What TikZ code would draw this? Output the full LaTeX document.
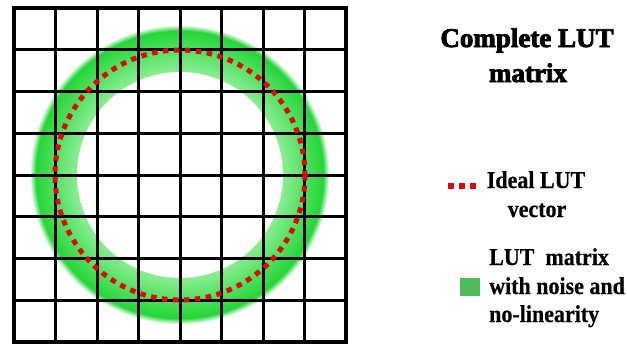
\documentclass[tikz,border=0pt]{standalone}
\usepackage{fontspec}
\setmainfont{Liberation Serif}
\newcommand{\vstr}[1]{\scalebox{1}[1.1]{#1}}
\begin{document}
\begin{tikzpicture}[x=1pt,y=-1pt,
  gridline/.style={line width=3pt,black},
  border/.style={line width=4pt,black},
  lbl/.style={inner sep=0pt,anchor=base,font=\fontsize{22}{26}\selectfont\bfseries\addfontfeature{FakeBold=0.6}},
  lblw/.style={inner sep=0pt,anchor=base west,font=\fontsize{22}{26}\selectfont\bfseries\addfontfeature{FakeBold=0.6}},
  ttl/.style={inner sep=0pt,anchor=base,font=\fontsize{27}{30}\selectfont\bfseries\addfontfeature{FakeBold=3}},
  idealdots/.style={line width=5pt,draw=redd,dash pattern=on 5.5pt off 5.5pt}
]
\definecolor{darkg}{RGB}{38,214,58}
\definecolor{lightg}{RGB}{140,238,148}
\definecolor{redd}{RGB}{226,8,8}
\definecolor{legg}{RGB}{76,187,90}
\useasboundingbox (0,0) rectangle (627,343);
\fill[white] (0,0) rectangle (627,343);
\coordinate (c) at (180,175);
% ring with gradient
\foreach \r in {150,149.5,...,144}{
  \pgfmathsetmacro\p{100-(\r-144)/6*100}
  \fill[darkg!\p!white] (c) circle (\r);
}
\foreach \r in {143.5,143,...,103}{
  \pgfmathsetmacro\p{(\r-103)/40.5*100}
  \fill[darkg!\p!lightg] (c) circle (\r);
}
\fill[white] (c) circle (103);
% grid
\foreach \i in {1,...,7}{
  \pgfmathsetmacro\xx{14+41.5*\i}
  \pgfmathsetmacro\yy{8+41.75*\i}
  \draw[gridline] (\xx,8) -- (\xx,342);
  \draw[gridline] (14,\yy) -- (346,\yy);
}
\draw[border] (14,8) rectangle (346,342);
% ideal circle
\draw[idealdots] (c) circle (125);
% title
\node[ttl] (t1) at (527,47) {Complete LUT};
\node[ttl] (t2) at (528,82) {matrix};
% legend 1
\coordinate (d1) at (448,186);
\coordinate (d2) at (477,186);
\draw[line width=6pt,draw=redd,dash pattern=on 6pt off 5pt] (d1) -- (d2);
\node[lbl] (l1) at (536,188) {\vstr{Ideal LUT}};
\node[lbl] (l2) at (537,217) {\vstr{vector}};
% legend 2
\fill[legg] (460,278) rectangle (480,296);
\node[lblw] (m1) at (489,265) {\vstr{LUT\ \ matrix}};
\node[lblw] (m2) at (489,294) {\vstr{with noise and}};
\node[lblw] (m3) at (489,322) {\vstr{no-linearity}};
\end{tikzpicture}
\end{document}
